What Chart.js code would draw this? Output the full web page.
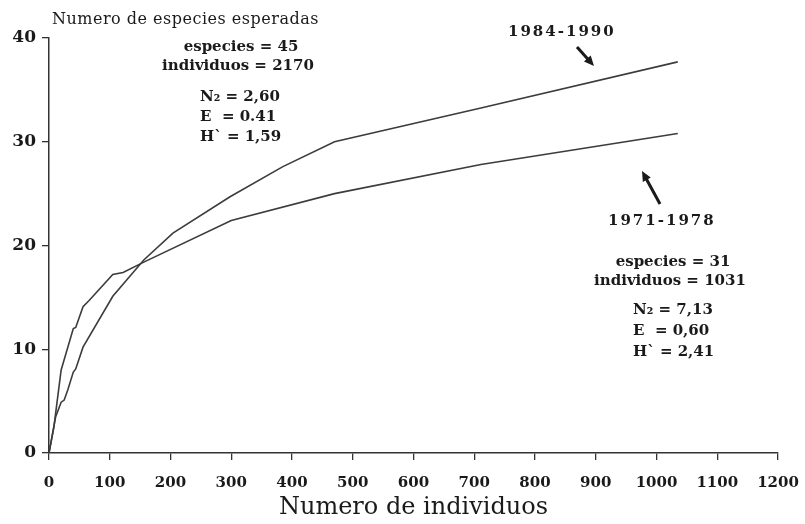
<!DOCTYPE html>
<html>
<head>
<title>Especies esperadas</title>
<style>
  body { margin: 0; background: #fff; }
  #wrap { width: 805px; height: 524px; }
</style>
</head>
<body>
<div id="wrap"><canvas id="curvas" width="805" height="524"></canvas></div>
<script src="https://cdn.jsdelivr.net/npm/chart.js@4.4.1/dist/chart.umd.min.js"></script>
<script>
// rarefaccion: numero de individuos vs especies esperadas
const x1971 = [0, 8, 20, 40, 44, 56, 66, 105, 122, 156, 300, 470, 711, 1035];
const y1971 = [0, 2.5, 8, 12, 12.1, 14.1, 14.7, 17.2, 17.4, 18.4, 22.4, 25, 27.8, 30.8];

const x1984 = [0, 11, 20, 25, 31, 40, 44, 56, 105, 156, 204, 298, 385, 470, 711, 1035];
const y1984 = [0, 3.5, 4.9, 5.1, 6.1, 7.8, 8.1, 10.2, 15.1, 18.6, 21.2, 24.7, 27.6, 30, 33.25, 37.7];

const yLabel = 'Numero de especies esperadas';
const xLabel = 'Numero de individuos';

const stats1984 = ['especies = 45', 'individuos = 2170'];
const div1984 = ['N\u2082 = 2,60', 'E  = 0.41', 'H` = 1,59'];
const stats1971 = ['especies = 31', 'individuos = 1031'];
const div1971 = ['N\u2082 = 7,13', 'E  = 0,60', 'H` = 2,41'];

function pts(xs, ys) {
    return xs.map((x, i) => ({x: x, y: ys[i]}));
}

const ink = '#1a1a1a';
const lineCol = '#3c3c3c';
const serif = '"DejaVu Serif", serif';

function arrow(ctx, x1, y1, x2, y2) {
    const a = Math.atan2(y2 - y1, x2 - x1);
    ctx.beginPath();
    ctx.moveTo(x1, y1);
    ctx.lineTo(x2 - 6 * Math.cos(a), y2 - 6 * Math.sin(a));
    ctx.lineWidth = 3;
    ctx.stroke();
    ctx.beginPath();
    ctx.moveTo(x2, y2);
    ctx.lineTo(x2 - 10 * Math.cos(a) + 4.5 * Math.sin(a), y2 - 10 * Math.sin(a) - 4.5 * Math.cos(a));
    ctx.lineTo(x2 - 10 * Math.cos(a) - 4.5 * Math.sin(a), y2 - 10 * Math.sin(a) + 4.5 * Math.cos(a));
    ctx.closePath();
    ctx.fill();
}

const notas = {
    id: 'notas',
    afterDraw(chart) {
        const ctx = chart.ctx;
        ctx.save();
        ctx.fillStyle = ink;
        ctx.strokeStyle = ink;
        ctx.textBaseline = 'middle';

        ctx.font = '16px ' + serif;
        ctx.letterSpacing = '0.5px';
        ctx.textAlign = 'left';
        ctx.fillText(yLabel, 52, 20);

        ctx.font = 'bold 15px ' + serif;
        ctx.letterSpacing = '0px';
        ctx.textAlign = 'center';
        ctx.fillText(stats1984[0], 241, 47);
        ctx.fillText(stats1984[1], 238, 66);
        ctx.fillText(stats1971[0], 673, 262);
        ctx.fillText(stats1971[1], 670, 281);

        ctx.textAlign = 'left';
        div1984.forEach((t, i) => ctx.fillText(t, 200, 97 + i * 20));
        div1971.forEach((t, i) => ctx.fillText(t, 633, 310 + i * 21));

        ctx.font = 'bold 15px ' + serif;
        ctx.letterSpacing = '2px';
        ctx.fillText('1984-1990', 508, 32);
        ctx.fillText('1971-1978', 608, 221);

        arrow(ctx, 577, 47, 594, 66);
        arrow(ctx, 660, 204, 642, 171);
        ctx.restore();
    }
};

const ctx = document.getElementById('curvas').getContext('2d');
new Chart(ctx, {
    type: 'line',
    data: {
        datasets: [
            { label: '1971-1978', data: pts(x1971, y1971), borderColor: lineCol, borderWidth: 1.6, pointRadius: 0, tension: 0, fill: false },
            { label: '1984-1990', data: pts(x1984, y1984), borderColor: lineCol, borderWidth: 1.6, pointRadius: 0, tension: 0, fill: false }
        ]
    },
    options: {
        responsive: false,
        animation: false,
        layout: { padding: { top: 38, right: 27, left: 0, bottom: 0 } },
        plugins: { legend: { display: false }, tooltip: { enabled: false } },
        scales: {
            x: {
                type: 'linear',
                min: 0, max: 1200,
                afterFit: s => { s.height = 71; s.paddingLeft = 0; s.paddingRight = 0; },
                ticks: { stepSize: 100, color: ink, padding: 14, callback: v => String(v), font: { family: serif, weight: 'bold', size: 15 } },
                grid: { drawOnChartArea: false, tickLength: 7, color: '#333', lineWidth: 1.3 },
                border: { color: '#333', width: 1.5 },
                title: { display: true, text: xLabel, color: ink, padding: { top: 2, bottom: 2 }, font: { family: serif, size: 24 } }
            },
            y: {
                min: 0, max: 40,
                afterFit: s => { s.width = 49; },
                ticks: { stepSize: 10, color: ink, padding: 6, font: { family: serif, weight: 'bold', size: 17 } },
                grid: { drawOnChartArea: false, tickLength: 7, color: '#333', lineWidth: 1.3 },
                border: { color: '#333', width: 1.5 }
            }
        }
    },
    plugins: [notas]
});
</script>
</body>
</html>
